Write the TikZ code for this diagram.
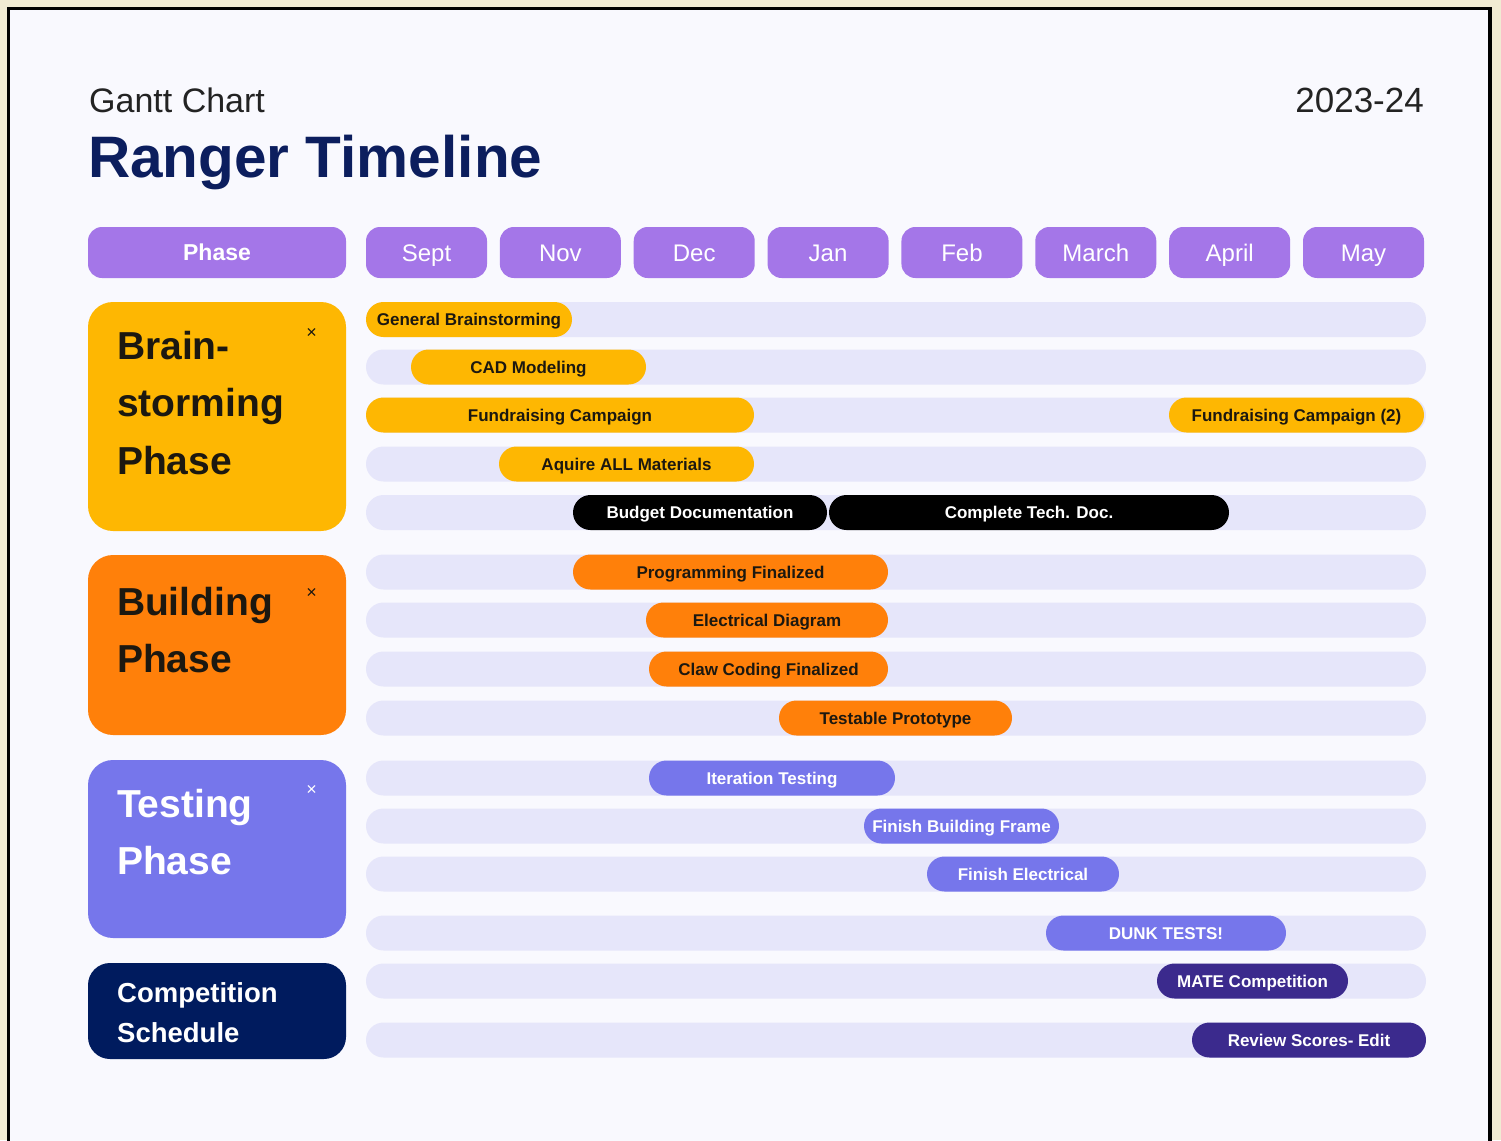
\documentclass[tikz,border=0pt]{standalone}
\usepackage{fontspec}
\setmainfont{Liberation Sans}
\usetikzlibrary{positioning}

\definecolor{cream}{HTML}{F1EBD3}
\definecolor{panel}{HTML}{F9F9FE}
\definecolor{trackc}{HTML}{E6E6FA}
\definecolor{headc}{HTML}{A476E8}
\definecolor{amber}{HTML}{FEB702}
\definecolor{tangerine}{HTML}{FF800A}
\definecolor{peri}{HTML}{7676EB}
\definecolor{indigo}{HTML}{3B2A8D}
\definecolor{navy}{HTML}{001B5E}
\definecolor{titlec}{HTML}{0C1E5E}
\definecolor{ink}{HTML}{1C1810}
\definecolor{greyink}{HTML}{232323}

\begin{document}
\begin{tikzpicture}[
    x=1pt, y=-1pt,
    node distance=20pt,
    head/.style={rectangle, fill=headc, text=white, rounded corners=14pt, minimum height=51, inner sep=0pt, text height=17pt, text depth=0pt, font=\fontsize{24}{28}\selectfont},
    track/.style={rectangle, fill=trackc, rounded corners=17.5pt, minimum width=1060, minimum height=35, inner sep=0pt},
    bar/.style={rectangle, rounded corners=17.5pt, minimum height=35, inner sep=0pt, text height=12.2pt, text depth=0pt, font=\fontsize{17}{20}\selectfont\bfseries},
    ybar/.style={bar, fill=amber, text=ink},
    obar/.style={bar, fill=tangerine, text=ink},
    kbar/.style={bar, fill=black, text=white},
    pbar/.style={bar, fill=peri, text=white},
    ibar/.style={bar, fill=indigo, text=white},
    phasebox/.style={rectangle, rounded corners=25pt, minimum width=258, inner sep=0pt},
    phasetext/.style={align=left, inner sep=0pt, font=\fontsize{39}{57.5}\selectfont\bfseries},
    closex/.style={inner sep=0pt, font=\fontsize{18}{18}\selectfont}
    ]
    \useasboundingbox (0,0) rectangle (1501,1140);
    \fill[cream] (0,0) rectangle (1501,1140);
    \fill[panel] (8.5,8.5) rectangle (1490,1170);
    \draw[line width=3.5pt] (8.5,1170) -- (8.5,8.5) -- (1490,8.5) -- (1490,1170);

    % title block
    \node[anchor=base west, inner sep=0pt, text=greyink, font=\fontsize{34}{40}\selectfont] (kicker) at (89,112) {Gantt Chart};
    \node[anchor=base west, inner sep=0pt, text=titlec, font=\fontsize{58.5}{64}\selectfont\bfseries] (title) at (88,177) {Ranger Timeline};
    \node[anchor=base east, inner sep=0pt, text=greyink, font=\fontsize{35}{40}\selectfont] (season) at (1424,112) {2023-24};

    % header row
    \node[head, minimum width=258, text height=16.5pt, font=\fontsize{23}{28}\selectfont\bfseries] (phasehead) at (217,252.5) {Phase};
    \foreach \m [count=\i] in {Sept,Nov,Dec,Jan,Feb,March,April,May}
        \node[head, minimum width=121] (month\i) at ({426.5+133.86*(\i-1)},252.5) {\m};

    % empty tracks
    \foreach \y [count=\i] in {319.5,367,415,464,512.5,572,620,669,718,778,826,874,933,981,1040}
        \node[track] (track\i) at (896,\y) {};

    % phase column
    \node[phasebox, fill=amber, minimum height=229] (brainbox) at (217,416.5) {};
    \node[phasebox, fill=tangerine, minimum height=180] (buildbox) at (217,645) {};
    \node[phasebox, fill=peri, minimum height=178] (testbox) at (217,849) {};
    \node[phasebox, fill=navy, minimum height=96, rounded corners=22pt] (compbox) at (217,1011) {};

    \node[phasetext, text=ink, below right=29pt and 29pt of brainbox.north west] (braintext) {Brain-\\storming\\Phase};
    \node[phasetext, text=ink, below right=32pt and 29pt of buildbox.north west] (buildtext) {Building\\Phase};
    \node[phasetext, text=white, below right=29pt and 29pt of testbox.north west] (testtext) {Testing\\Phase};
    \node[anchor=west, align=left, inner sep=0pt, text=white, font=\fontsize{27.5}{40}\selectfont\bfseries] (comptext) at (117,1013) {Competition\\Schedule};

    \node[closex, text=ink, below left=26pt and 29pt of brainbox.north east] (brainx) {×};
    \node[closex, text=ink, below left=33pt and 29pt of buildbox.north east] (buildx) {×};
    \node[closex, text=white, below left=25pt and 29pt of testbox.north east] (testx) {×};

    % brainstorming tasks
    \node[ybar, minimum width=206] (brainstorm) at (469,319.5) {General Brainstorming};
    \node[ybar, minimum width=235] (cad) at (528.5,367) {CAD Modeling};
    \node[ybar, minimum width=388] (funds) at (560,415) {Fundraising Campaign};
    \node[ybar, minimum width=255] (fundstwo) at (1296.5,415) {Fundraising Campaign (2)};
    \node[ybar, minimum width=255] (materials) at (626.5,464) {Aquire ALL Materials};
    \node[kbar, minimum width=254] (budget) at (700,512.5) {Budget Documentation};
    \node[kbar, minimum width=400] (techdoc) at (1029,512.5) {Complete Tech. Doc.};

    % building tasks
    \node[obar, minimum width=315] (programming) at (730.5,572) {Programming Finalized};
    \node[obar, minimum width=242] (diagram) at (767,620) {Electrical Diagram};
    \node[obar, minimum width=239] (claw) at (768.5,669) {Claw Coding Finalized};
    \node[obar, minimum width=233] (prototype) at (895.5,718) {Testable Prototype};

    % testing tasks
    \node[pbar, minimum width=246] (iteration) at (772,778) {Iteration Testing};
    \node[pbar, minimum width=195] (frame) at (961.5,826) {Finish Building Frame};
    \node[pbar, minimum width=192] (electrical) at (1023,874) {Finish Electrical};
    \node[pbar, minimum width=240] (dunk) at (1166,933) {DUNK TESTS!};

    % competition
    \node[ibar, minimum width=191] (mate) at (1252.5,981) {MATE Competition};
    \node[ibar, minimum width=234] (review) at (1309,1040) {Review Scores- Edit};
\end{tikzpicture}
\end{document}
